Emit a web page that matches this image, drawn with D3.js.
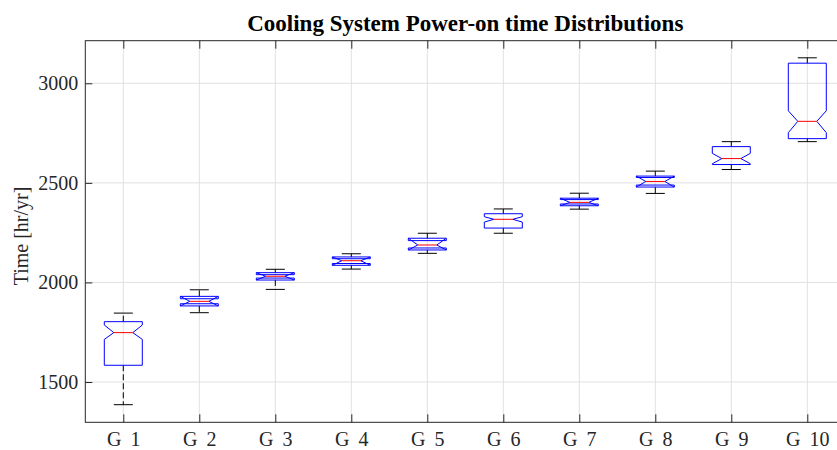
<!DOCTYPE html>
<html>
<head>
<meta charset="utf-8">
<script src="https://cdn.jsdelivr.net/npm/d3@7"></script>
<style>
  body { margin: 0; background: #fff; }
  text { font-family: "Liberation Serif", "Times New Roman", serif; }
</style>
</head>
<body>
<div id="chart"></div>
<script>
// box statistics per group
var groups = ['G 1', 'G 2', 'G 3', 'G 4', 'G 5', 'G 6', 'G 7', 'G 8', 'G 9', 'G 10'];
var hiCap = [1846, 1963, 2066, 2144, 2247, 2369, 2448, 2559, 2707, 3128];
var q3    = [1803, 1918, 2039, 2119, 2210, 2345, 2416, 2527, 2682, 3101];
var nHi   = [1786, 1930, 2049, 2128, 2222, 2330, 2423, 2534, 2648, 2862];
var med   = [1748, 1905, 2031, 2109, 2188, 2317, 2402, 2507, 2622, 2809];
var nLo   = [1714, 1882, 2012, 2086, 2163, 2303, 2385, 2479, 2596, 2752];
var q1    = [1584, 1893, 2022, 2095, 2173, 2273, 2394, 2489, 2592, 2722];
var loCap = [1386, 1848, 1965, 2067, 2146, 2247, 2368, 2447, 2567, 2707];
var yTicks = [1500, 2000, 2500, 3000];

var width = 837, height = 450;
var plotL = 85.3, plotR = 845.3, plotT = 40.7, plotB = 422.3;
var axisColor = '#262626';

var svg = d3.select('#chart').append('svg')
    .attr('width', width)
    .attr('height', height);

var x = d3.scaleLinear().domain([0.5, 10.5]).range([plotL, plotR]);
var y = d3.scaleLinear().domain([1297.6, 3213.9]).range([plotB, plotT]);

var boxW = 0.25;   // half width of box
var notchD = 0.125; // depth of the notch
var capW = 0.125;

// grid
svg.selectAll('.vgrid')
    .data(groups)
    .enter().append('line')
    .attr('x1', function(d, i) { return x(i + 1); })
    .attr('x2', function(d, i) { return x(i + 1); })
    .attr('y1', plotT).attr('y2', plotB)
    .style('stroke', '#e1e1e1');
svg.selectAll('.hgrid')
    .data(yTicks)
    .enter().append('line')
    .attr('x1', plotL).attr('x2', plotR)
    .attr('y1', function(d) { return y(d); })
    .attr('y2', function(d) { return y(d); })
    .style('stroke', '#e1e1e1');

// whiskers
var g = svg.selectAll('.box')
    .data(groups)
    .enter().append('g')
    .attr('class', 'box');

g.append('line')
    .attr('x1', function(d, i) { return x(i + 1); })
    .attr('x2', function(d, i) { return x(i + 1); })
    .attr('y1', function(d, i) { return y(Math.max(q3[i], nHi[i])); })
    .attr('y2', function(d, i) { return y(hiCap[i]); })
    .style('stroke', '#000').style('stroke-dasharray', '6,3');
g.append('line')
    .attr('x1', function(d, i) { return x(i + 1); })
    .attr('x2', function(d, i) { return x(i + 1); })
    .attr('y1', function(d, i) { return y(Math.min(q1[i], nLo[i])); })
    .attr('y2', function(d, i) { return y(loCap[i]); })
    .style('stroke', '#000').style('stroke-dasharray', '6,3');

// caps
[hiCap, loCap].forEach(function(arr) {
  g.append('line')
      .attr('x1', function(d, i) { return x(i + 1 - capW); })
      .attr('x2', function(d, i) { return x(i + 1 + capW); })
      .attr('y1', function(d, i) { return y(arr[i]); })
      .attr('y2', function(d, i) { return y(arr[i]); })
      .style('stroke', '#000');
});

// notched box
g.append('path')
    .attr('d', function(d, i) {
      var c = i + 1, lb = c - boxW, ub = c + boxW;
      var p = d3.path();
      p.moveTo(x(lb), y(q1[i]));
      p.lineTo(x(lb), y(nLo[i]));
      p.lineTo(x(lb + notchD), y(med[i]));
      p.lineTo(x(lb), y(nHi[i]));
      p.lineTo(x(lb), y(q3[i]));
      p.lineTo(x(ub), y(q3[i]));
      p.lineTo(x(ub), y(nHi[i]));
      p.lineTo(x(ub - notchD), y(med[i]));
      p.lineTo(x(ub), y(nLo[i]));
      p.lineTo(x(ub), y(q1[i]));
      p.closePath();
      // notch sticking out of the box gets its own edge
      if (nHi[i] > q3[i]) { p.moveTo(x(lb), y(nHi[i])); p.lineTo(x(ub), y(nHi[i])); }
      if (nLo[i] < q1[i]) { p.moveTo(x(lb), y(nLo[i])); p.lineTo(x(ub), y(nLo[i])); }
      return p.toString();
    })
    .style('fill', 'none')
    .style('stroke', '#0000ff');

// median
g.append('line')
    .attr('x1', function(d, i) { return x(i + 1 - boxW + notchD); })
    .attr('x2', function(d, i) { return x(i + 1 + boxW - notchD); })
    .attr('y1', function(d, i) { return y(med[i]); })
    .attr('y2', function(d, i) { return y(med[i]); })
    .style('stroke', '#ff0000');

// axes
var xAxis = d3.axisBottom(x)
    .tickValues(d3.range(1, 11))
    .tickFormat(function(d) { return groups[d - 1]; })
    .tickSize(-8)
    .tickPadding(10);
var xTop = d3.axisTop(x)
    .tickValues(d3.range(1, 11))
    .tickFormat('')
    .tickSize(-8);
var yAxis = d3.axisLeft(y)
    .tickValues(yTicks)
    .tickFormat(d3.format('d'))
    .tickSize(-7)
    .tickPadding(7);

function styleAxis(sel) {
  sel.select('.domain').remove();
  sel.selectAll('line').style('stroke', axisColor);
  sel.selectAll('text')
      .style('font-size', '20px')
      .style('fill', axisColor)
      .style('font-family', '"Liberation Serif", serif');
}

svg.append('g')
    .attr('transform', 'translate(0,' + plotB + ')')
    .call(xAxis).call(styleAxis)
    .selectAll('text').style('word-spacing', '4px');
svg.append('g')
    .attr('transform', 'translate(0,' + plotT + ')')
    .call(xTop).call(styleAxis);
svg.append('g')
    .attr('transform', 'translate(' + plotL + ',0)')
    .call(yAxis).call(styleAxis);

// frame
svg.append('rect')
    .attr('x', plotL).attr('y', plotT)
    .attr('width', plotR - plotL).attr('height', plotB - plotT)
    .style('fill', 'none')
    .style('stroke', axisColor);

svg.append('text')
    .attr('x', (plotL + plotR) / 2)
    .attr('y', 31)
    .attr('text-anchor', 'middle')
    .style('font-size', '23px')
    .style('font-weight', 'bold')
    .style('fill', '#000')
    .text('Cooling System Power-on time Distributions');

svg.append('text')
    .attr('transform', 'translate(28,236) rotate(-90)')
    .attr('text-anchor', 'middle')
    .style('font-size', '20px')
    .style('fill', axisColor)
    .text('Time [hr/yr]');
</script>
</body>
</html>
